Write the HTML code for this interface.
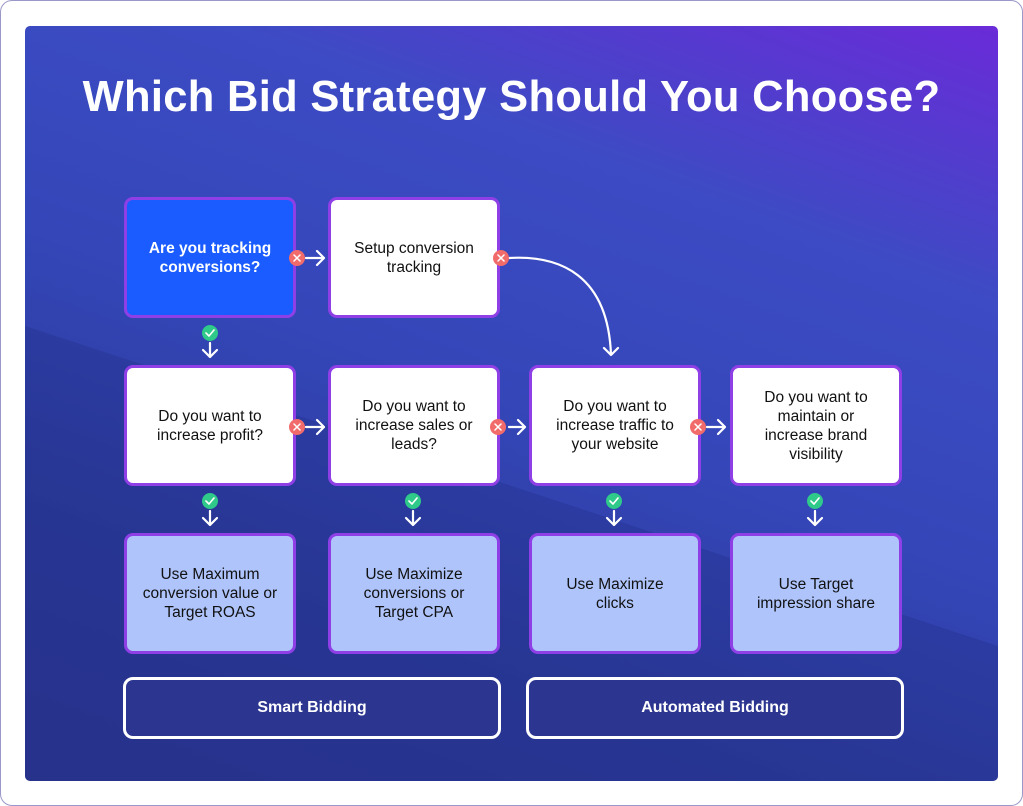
<!DOCTYPE html>
<html><head><meta charset="utf-8"><style>
body{margin:0;width:1023px;height:806px;background:#fff;font-family:"Liberation Sans",sans-serif;position:relative;overflow:hidden}
.outer{position:absolute;left:0;top:0;width:1021px;height:804px;border:1px solid #9a98c8;border-radius:12px}
.panel{position:absolute;left:25px;top:26px;width:973px;height:755px;border-radius:5px;
background:linear-gradient(200deg,#6a2bd8 0%,#3d4bc4 25%,#3446b8 50%,#2c3a9a 75%,#2b3590 100%);overflow:hidden}
h1{position:absolute;left:0;width:1023px;top:73px;margin:0;text-align:center;color:#fff;font-size:43.5px;font-weight:bold;letter-spacing:0.3px}
.b{position:absolute;width:166px;height:115px;border:3px solid #8f3fe6;border-radius:9px;background:#fff;display:flex;align-items:center;justify-content:center;text-align:center;font-size:15.5px;line-height:19px;color:#111;box-sizing:content-box;margin:0;}
.l{background:#aec4fb}
.pill{position:absolute;height:56px;border:3px solid #fff;border-radius:10px;background:#2c3690;color:#fff;font-weight:bold;font-size:16px;display:flex;align-items:center;justify-content:center}
svg{position:absolute;left:0;top:0}
</style></head><body>
<div class="outer"></div>
<div class="panel"><svg width="973" height="755"><polygon points="0,300 973,620 973,755 0,755" fill="#1e2a80" opacity="0.3"/></svg></div>
<h1>Which Bid Strategy Should You Choose?</h1>
<div class="b" style="left:124px;top:197px;background:#1a5cff;color:#fff;font-weight:bold">Are you tracking<br>conversions?</div>
<div class="b" style="left:328px;top:197px">Setup conversion<br>tracking</div>
<div class="b" style="left:124px;top:365px">Do you want to<br>increase profit?</div>
<div class="b" style="left:328px;top:365px">Do you want to<br>increase sales or<br>leads?</div>
<div class="b" style="left:529px;top:365px">Do you want to<br>increase traffic to<br>your website</div>
<div class="b" style="left:730px;top:365px">Do you want to<br>maintain or<br>increase brand<br>visibility</div>
<div class="b l" style="left:124px;top:533px">Use Maximum<br>conversion value or<br>Target ROAS</div>
<div class="b l" style="left:328px;top:533px">Use Maximize<br>conversions or<br>Target CPA</div>
<div class="b l" style="left:529px;top:533px">Use Maximize<br>clicks</div>
<div class="b l" style="left:730px;top:533px">Use Target<br>impression share</div>
<div class="pill" style="left:123px;top:677px;width:372px">Smart Bidding</div>
<div class="pill" style="left:526px;top:677px;width:372px">Automated Bidding</div>
<svg width="1023" height="806" fill="none" stroke="#fff" stroke-width="2.2" stroke-linecap="round" stroke-linejoin="round">
<g>
<path d="M306 258h18M317 251l7 7-7 7"/>
<path d="M509 427h16M518 420l7 7-7 7"/>
<path d="M306 427h18M317 420l7 7-7 7"/>
<path d="M707 427h18M718 420l7 7-7 7"/>
<path d="M509 258C560 255 608 275 611 355M604 348l7 7 7-7"/>
<path d="M210 343v14M203 350l7 7 7-7"/>
<path d="M210 511v14M203 518l7 7 7-7"/>
<path d="M413 511v14M406 518l7 7 7-7"/>
<path d="M614 511v14M607 518l7 7 7-7"/>
<path d="M815 511v14M808 518l7 7 7-7"/>
</g>
<g stroke="none" fill="#f26b6b">
<circle cx="297" cy="258" r="8"/><circle cx="501" cy="258" r="8"/>
<circle cx="297" cy="427" r="8"/><circle cx="498" cy="427" r="8"/><circle cx="698" cy="427" r="8"/>
</g>
<g stroke="#fff" stroke-width="1.5">
<path d="M294 255l6 6M300 255l-6 6M498 255l6 6M504 255l-6 6M294 424l6 6M300 424l-6 6M495 424l6 6M501 424l-6 6M695 424l6 6M701 424l-6 6"/>
</g>
<g stroke="none" fill="#2fc98a">
<circle cx="210" cy="333" r="8"/><circle cx="210" cy="501" r="8"/><circle cx="413" cy="501" r="8"/><circle cx="614" cy="501" r="8"/><circle cx="815" cy="501" r="8"/>
</g>
<g stroke="#fff" stroke-width="1.6">
<path d="M206 333l3 3 5-6M206 501l3 3 5-6M409 501l3 3 5-6M610 501l3 3 5-6M811 501l3 3 5-6"/>
</g>
</svg>
</body></html>
